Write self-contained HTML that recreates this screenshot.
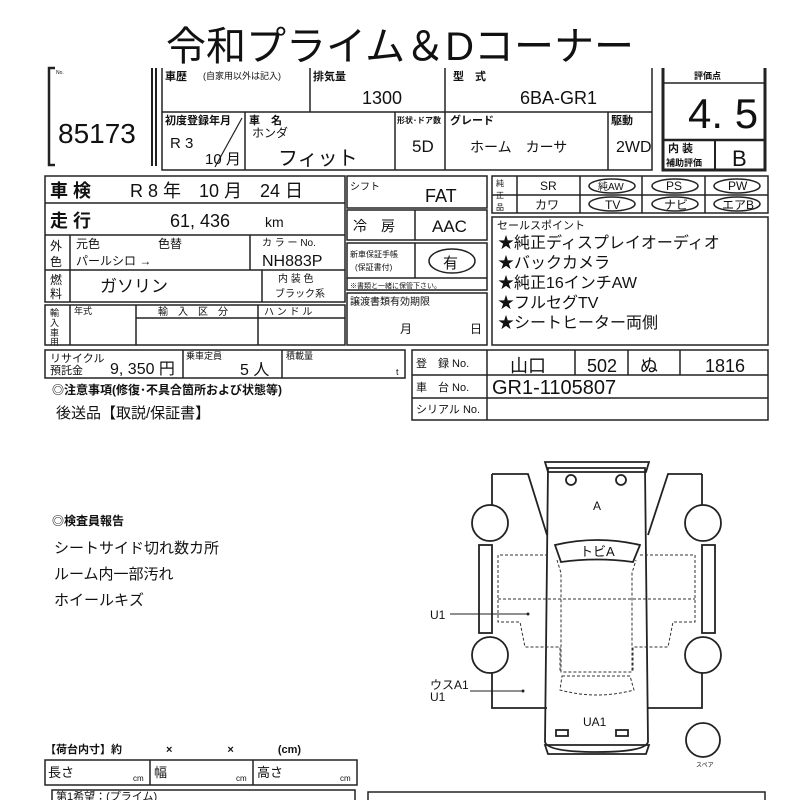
<!DOCTYPE html>
<html><head><meta charset="utf-8"><style>
html,body{margin:0;padding:0;background:#fff;width:800px;height:800px;overflow:hidden}
svg{display:block}
text{font-family:"Liberation Sans","Noto Sans CJK JP",sans-serif;fill:#111}
.b{font-weight:bold}
</style></head><body>
<svg width="800" height="800" viewBox="0 0 800 800" xmlns="http://www.w3.org/2000/svg">
<g stroke="#222" fill="none" stroke-width="1.5">
<path d="M55 68 H49 V165 H55" stroke-width="2.5"/>
<line x1="152" y1="68" x2="152" y2="166" stroke-width="2"/><line x1="156" y1="68" x2="156" y2="166" stroke-width="2"/>
<path d="M162 68 V170 H652 V68"/>
<line x1="162" y1="112" x2="652" y2="112"/>
<line x1="310" y1="68" x2="310" y2="112"/><line x1="445" y1="68" x2="445" y2="170"/>
<line x1="245" y1="112" x2="245" y2="170"/><line x1="395" y1="112" x2="395" y2="170"/><line x1="608" y1="112" x2="608" y2="170"/>
<line x1="215" y1="167" x2="242" y2="118" stroke-width="1.2"/>
<path d="M663 68 V170 H765 V68" stroke-width="3"/>
<line x1="663" y1="83" x2="765" y2="83"/><line x1="663" y1="140" x2="765" y2="140" stroke-width="2.5"/>
<line x1="715" y1="140" x2="715" y2="170" stroke-width="2"/>
<rect x="45" y="176" width="300" height="126"/>
<line x1="45" y1="203" x2="345" y2="203"/><line x1="45" y1="235" x2="345" y2="235"/><line x1="45" y1="270" x2="345" y2="270"/>
<line x1="70" y1="235" x2="70" y2="302"/><line x1="250" y1="235" x2="250" y2="270"/><line x1="262" y1="270" x2="262" y2="302"/>
<rect x="45" y="305" width="300" height="40"/>
<line x1="70" y1="305" x2="70" y2="345"/><line x1="136" y1="305" x2="136" y2="345"/><line x1="258" y1="305" x2="258" y2="345"/>
<line x1="136" y1="318" x2="345" y2="318"/>
<rect x="347" y="176" width="140" height="32"/>
<rect x="347" y="210" width="140" height="30"/><line x1="415" y1="210" x2="415" y2="240"/>
<rect x="347" y="243" width="140" height="47"/><line x1="415" y1="243" x2="415" y2="278"/><line x1="347" y1="278" x2="487" y2="278"/>
<rect x="347" y="293" width="140" height="52"/>
<ellipse cx="452" cy="261" rx="23" ry="12"/>
<rect x="492" y="176" width="276" height="37"/><line x1="492" y1="195" x2="768" y2="195"/>
<line x1="517" y1="176" x2="517" y2="213"/><line x1="580" y1="176" x2="580" y2="213"/><line x1="642" y1="176" x2="642" y2="213"/><line x1="705" y1="176" x2="705" y2="213"/>
<ellipse cx="612" cy="186" rx="23" ry="7"/><ellipse cx="675" cy="186" rx="23" ry="7"/><ellipse cx="737" cy="186" rx="23" ry="7"/>
<ellipse cx="612" cy="204" rx="23" ry="7"/><ellipse cx="675" cy="204" rx="23" ry="7"/><ellipse cx="737" cy="204" rx="23" ry="7"/>
<rect x="492" y="217" width="276" height="128"/>
<rect x="45" y="350" width="360" height="28"/><line x1="183" y1="350" x2="183" y2="378"/><line x1="282" y1="350" x2="282" y2="378"/>
<rect x="412" y="350" width="356" height="70"/><line x1="412" y1="375" x2="768" y2="375"/><line x1="412" y1="398" x2="768" y2="398"/>
<line x1="487" y1="350" x2="487" y2="420"/><line x1="575" y1="350" x2="575" y2="375"/><line x1="628" y1="350" x2="628" y2="375"/><line x1="680" y1="350" x2="680" y2="375"/>
<rect x="45" y="760" width="312" height="25"/><line x1="150" y1="760" x2="150" y2="785"/><line x1="253" y1="760" x2="253" y2="785"/>
<path d="M52 800 V790 H355 V800"/><path d="M368 800 V792 H765 V800"/>
</g>
<g stroke="#222" fill="none" stroke-width="1.8">
<path d="M548 468 L545 742 Q548 752 597 752 Q645 752 648 742 L645 468 Z"/>
<path d="M545 462 H649 L646 472 H548 Z"/><path d="M545 745 H649 L646 754 H548 Z"/>
<circle cx="571" cy="480" r="5"/><circle cx="621" cy="480" r="5"/>
<path d="M555 545 Q597 535 640 545 L633 562 Q597 557 561 562 Z"/>
<path d="M492 474 H528 L547 535 M492 474 V505 M492 670 V708 H547"/>
<path d="M702 474 H668 L648 535 M702 474 V505 M702 670 V708 H648"/>
<rect x="479" y="545" width="13" height="88"/><rect x="702" y="545" width="13" height="88"/>
<rect x="556" y="730" width="12" height="6"/><rect x="616" y="730" width="12" height="6"/>
<circle cx="490" cy="523" r="18" fill="#fff"/><circle cx="490" cy="655" r="18" fill="#fff"/>
<circle cx="703" cy="523" r="18" fill="#fff"/><circle cx="703" cy="655" r="18" fill="#fff"/>
<circle cx="703" cy="740" r="17"/>
</g>
<g stroke="#333" fill="none" stroke-width="1" stroke-dasharray="3,2">
<path d="M548 555 H498 V622 H520 L525 647 H560 V672 M640 555 H695 V622 H673 L668 647 H633 V672"/>
<line x1="498" y1="599" x2="695" y2="599"/>
<path d="M557 560 L561 573 V672 H632 V573 L636 560"/>
<path d="M562 676 H630 L634 690 Q597 700 560 690 Z"/>
</g>
<g stroke="#222" stroke-width="1"><line x1="450" y1="614" x2="528" y2="614"/><line x1="470" y1="691" x2="523" y2="691"/></g>
<circle cx="528" cy="614" r="1.5" fill="#222"/><circle cx="523" cy="691" r="1.5" fill="#222"/>
<g font-size="12">
<text x="593" y="510">A</text><text x="580" y="556" font-size="13">トビA</text>
<text x="430" y="619">U1</text><text x="430" y="689">ウスA1</text><text x="430" y="701">U1</text>
<text x="583" y="726">UA1</text><text x="696" y="767" font-size="6">スペア</text>
</g>
<text x="400" y="60" font-size="40" text-anchor="middle">令和プライム＆Dコーナー</text>
<text x="56" y="74" font-size="5">No.</text>
<text x="58" y="143" font-size="28">85173</text>
<g font-size="11" class="b"><text x="165" y="80">車歴</text><text x="313" y="80">排気量</text><text x="453" y="80">型　式</text>
<text x="165" y="124">初度登録年月</text><text x="249" y="124">車　名</text><text x="397" y="123" font-size="8">形状･ドア数</text><text x="450" y="124">グレード</text><text x="611" y="124">駆動</text>
<text x="694" y="79" font-size="9">評価点</text><text x="668" y="152" font-size="11">内 装</text><text x="666" y="166" font-size="9">補助評価</text></g>
<text x="203" y="79" font-size="9">(自家用以外は記入)</text>
<text x="362" y="104" font-size="18">1300</text><text x="520" y="104" font-size="18">6BA-GR1</text>
<text x="170" y="148" font-size="15">R 3</text><text x="205" y="164" font-size="15">10 月</text>
<text x="252" y="137" font-size="12">ホンダ</text><text x="278" y="165" font-size="20">フィット</text>
<text x="412" y="152" font-size="17">5D</text><text x="470" y="152" font-size="14">ホーム　カーサ</text><text x="616" y="152" font-size="16">2WD</text>
<text x="688" y="128" font-size="42">4. 5</text><text x="732" y="166" font-size="22">B</text>
<g font-size="18"><text x="50" y="197" class="b">車 検</text><text x="130" y="197">R 8 年　10 月　24 日</text>
<text x="50" y="227" class="b">走 行</text><text x="170" y="227">61, 436</text><text x="265" y="227" font-size="14">km</text></g>
<g font-size="12"><text x="50" y="250">外</text><text x="50" y="266">色</text><text x="76" y="248">元色</text><text x="158" y="248">色替</text>
<text x="76" y="265">パールシロ →</text><text x="262" y="246" font-size="10">カ ラ ー No.</text><text x="262" y="266" font-size="16">NH883P</text>
<text x="50" y="284">燃</text><text x="50" y="298">料</text><text x="100" y="292" font-size="17">ガソリン</text>
<text x="278" y="282" font-size="10">内 装 色</text><text x="275" y="297" font-size="10">ブラック系</text>
<text x="50" y="316" font-size="9">輸</text><text x="50" y="326" font-size="9">入</text><text x="50" y="336" font-size="9">車</text><text x="50" y="345" font-size="9">用</text>
<text x="74" y="314" font-size="9">年式</text><text x="158" y="315" font-size="10">輸　入　区　分</text><text x="264" y="315" font-size="10">ハ ン ド ル</text>
<text x="350" y="190" font-size="10">シフト</text><text x="425" y="202" font-size="18">FAT</text>
<text x="353" y="231" font-size="14">冷　房</text><text x="432" y="232" font-size="17">AAC</text>
<text x="350" y="257" font-size="8">新車保証手帳</text><text x="355" y="270" font-size="8">(保証書付)</text><text x="443" y="268" font-size="15">有</text>
<text x="350" y="288" font-size="7">※書類と一緒に保管下さい。</text>
<text x="350" y="305" font-size="10">譲渡書類有効期限</text><text x="400" y="333" font-size="12">月</text><text x="470" y="333" font-size="12">日</text>
<text x="496" y="186" font-size="8">純</text><text x="496" y="198" font-size="8">正</text><text x="496" y="210" font-size="8">品</text>
<text x="540" y="190">SR</text><text x="535" y="209">カワ</text><text x="598" y="190" font-size="10">純AW</text><text x="666" y="190">PS</text><text x="728" y="190">PW</text>
<text x="605" y="209">TV</text><text x="664" y="209">ナビ</text><text x="722" y="209">エアB</text>
<text x="497" y="229" font-size="11">セールスポイント</text></g>
<g font-size="16"><text x="498" y="248">★純正ディスプレイオーディオ</text><text x="498" y="268">★バックカメラ</text><text x="498" y="288">★純正16インチAW</text><text x="498" y="308">★フルセグTV</text><text x="498" y="328">★シートヒーター両側</text></g>
<text x="50" y="362" font-size="11">リサイクル</text><text x="50" y="374" font-size="11">預託金</text><text x="110" y="374" font-size="16">9, 350 円</text>
<text x="186" y="359" font-size="9">乗車定員</text><text x="240" y="375" font-size="16">5 人</text><text x="286" y="359" font-size="9">積載量</text><text x="396" y="375" font-size="9">t</text>
<g font-size="11"><text x="416" y="367">登　録 No.</text><text x="416" y="391">車　台 No.</text><text x="416" y="413">シリアル No.</text></g>
<text x="510" y="372" font-size="18">山口</text><text x="587" y="372" font-size="18">502</text><text x="640" y="372" font-size="18">ぬ</text><text x="705" y="372" font-size="18">1816</text>
<text x="492" y="394" font-size="20">GR1-1105807</text>
<text x="52" y="394" font-size="12" class="b">◎注意事項(修復･不具合箇所および状態等)</text>
<text x="56" y="418" font-size="15">後送品【取説/保証書】</text>
<text x="52" y="525" font-size="12" class="b">◎検査員報告</text>
<g font-size="15"><text x="54" y="553">シートサイド切れ数カ所</text><text x="54" y="579">ルーム内一部汚れ</text><text x="54" y="605">ホイールキズ</text></g>
<text x="45" y="753" font-size="11" class="b">【荷台内寸】約　　　　×　　　　　×　　　　(cm)</text>
<g font-size="13"><text x="48" y="777">長さ</text><text x="154" y="777">幅</text><text x="257" y="777">高さ</text></g>
<g font-size="8"><text x="133" y="781">cm</text><text x="236" y="781">cm</text><text x="340" y="781">cm</text></g>
<text x="56" y="800" font-size="11">第1希望：(プライム)</text>
</svg>
</body></html>
